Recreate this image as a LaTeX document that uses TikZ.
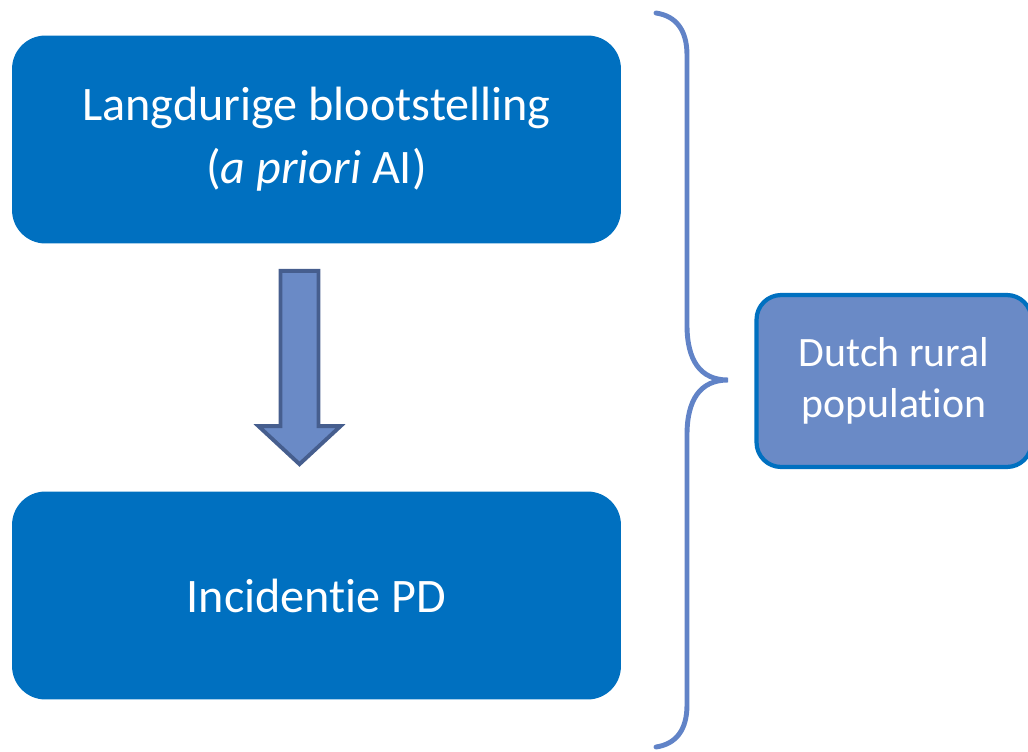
\documentclass[tikz,border=0pt]{standalone}
\usepackage{fontspec}
\setmainfont{Carlito}[Ligatures=NoCommon]
\usetikzlibrary{calc}

\definecolor{boxblue}{HTML}{0070C0}
\definecolor{softblue}{HTML}{6A8AC6}
\definecolor{darkedge}{HTML}{465E8E}
\definecolor{bracecol}{HTML}{6183C7}

\tikzset{
	mainbox/.style={fill=boxblue, rounded corners=19pt, minimum width=12.18cm, minimum height=4.16cm, text=white, align=center, font=\fontsize{27.4}{36}\selectfont},
	sidebox/.style={fill=softblue, draw=boxblue, line width=2.4pt, rounded corners=14pt, minimum width=5.5cm, minimum height=3.44cm, text=white, align=center, font=\fontsize{23.8}{29}\selectfont}
}

\begin{document}
\begin{tikzpicture}[x=0.02cm, y=-0.02cm]
	\useasboundingbox (0, 0) rectangle (1028, 751);
	
	% Blokken links
	\node[mainbox] (expo) at (316.5, 139.5) {Langdurige blootstelling\\(\textit{a priori} AI)};
	\node[mainbox] (incid) at (316.5, 595.5) {Incidentie PD};
	
	% Pijl naar beneden
	\coordinate (atop) at ($(expo.south)+(-17, 27)$);
	\coordinate (abot) at ($(incid.north)+(-17, -27)$);
	\draw[fill=softblue, draw=darkedge, line width=2.2pt, line join=miter]
		($(atop)+(-19, 0)$) -- ($(atop)+(19, 0)$) -- ($(abot)+(19, -38)$)
		-- ($(abot)+(41, -38)$) -- (abot) -- ($(abot)+(-41, -38)$)
		-- ($(abot)+(-19, -38)$) -- cycle;
	
	% Accolade
	\coordinate (tip) at (728, 380);
	\draw[bracecol, line width=2.8pt, line cap=round]
		(656, 13) .. controls (676, 16) and (687, 30) .. (687, 55)
		-- (687, 325) .. controls (687, 360) and (700, 380) .. (tip)
		.. controls (700, 380) and (687, 400) .. (687, 435)
		-- (687, 705) .. controls (687, 730) and (676, 744) .. (656, 747);
	
	% Populatie
	\node[sidebox] (pop) at (894, 381) {Dutch rural\\population};
\end{tikzpicture}
\end{document}
